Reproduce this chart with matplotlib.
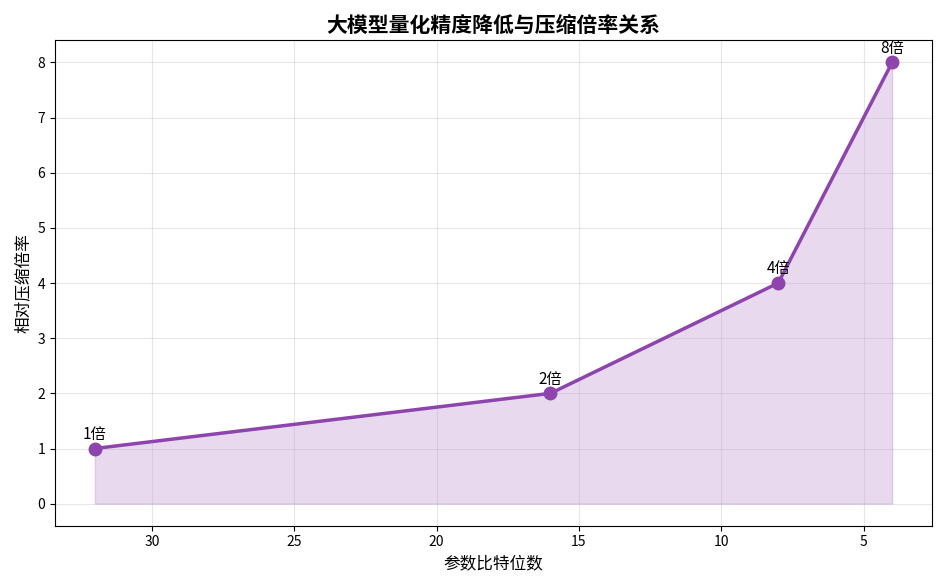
import matplotlib
matplotlib.use("Agg")
import matplotlib.pyplot as plt

plt.rcParams['font.family'] = ['Noto Sans CJK SC', 'DejaVu Sans']
plt.rcParams['axes.unicode_minus'] = False

bits = [32, 16, 8, 4]
ratio = [1, 2, 4, 8]
labels = ["1倍", "2倍", "4倍", "8倍"]

fig, ax = plt.subplots(figsize=(9.47, 5.87), dpi=100)
ax.plot(bits, ratio, "o-", color="#8e44ad", linewidth=2.5, markersize=9)
ax.fill_between(bits, ratio, alpha=0.2, color="#8e44ad")
for x, y, t in zip(bits, ratio, labels):
    ax.annotate(t, (x, y), textcoords="offset points", xytext=(0, 7),
                ha="center", fontsize=11)
ax.invert_xaxis()
ax.set_title("大模型量化精度降低与压缩倍率关系", fontsize=15, fontweight="bold")
ax.set_xlabel("参数比特位数", fontsize=12)
ax.set_ylabel("相对压缩倍率", fontsize=12)
ax.grid(True, alpha=0.3)
plt.tight_layout()
plt.savefig("out.png", dpi=100)
